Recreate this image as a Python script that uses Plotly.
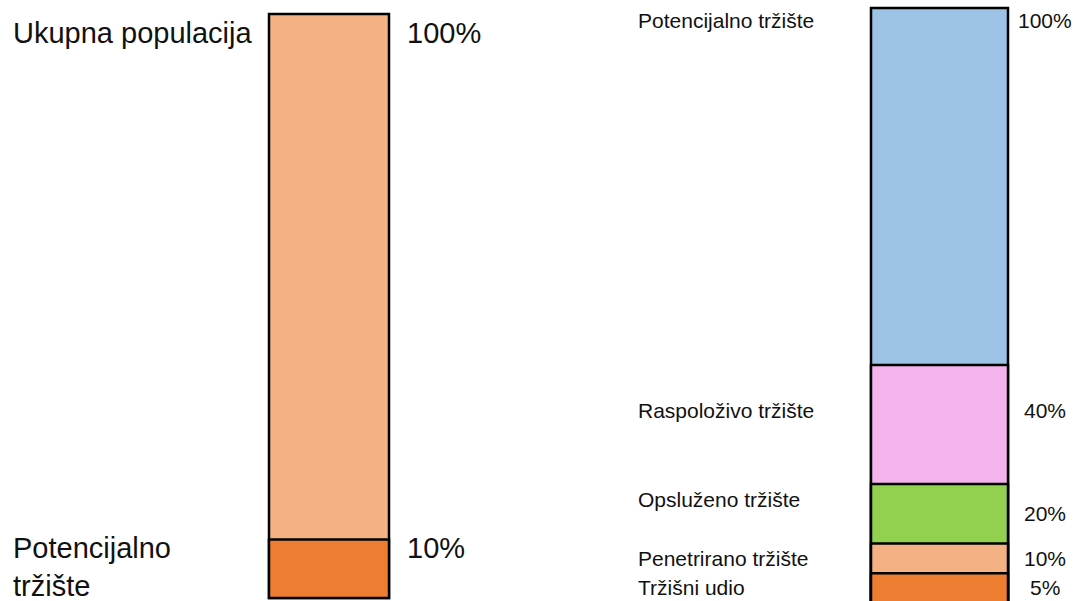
import plotly.graph_objects as go

# Left chart: total population and the potential market share of it
left_names = ["Ukupna populacija", "Potencijalno tržište"]
left_values = [100, 10]
left_colors = ["#F4B183", "#ED7D31"]

# Right chart: nested market levels (share of the potential market)
right_names = ["Potencijalno tržište", "Raspoloživo tržište", "Opsluženo tržište",
               "Penetrirano tržište", "Tržišni udio"]
right_values = [100, 40, 20, 10, 5]
right_colors = ["#9DC3E6", "#F4B3EC", "#92D050", "#F4B183", "#ED7D31"]

W, H = 1086, 601
FONT = "Liberation Sans, Arial, sans-serif"

fig = go.Figure()

# Nested bars: each level is drawn from zero to its own share, largest first
for name, val, col in zip(left_names, left_values, left_colors):
    fig.add_trace(go.Bar(x=[0], y=[val], width=1, name=name, xaxis="x", yaxis="y",
                         marker=dict(color=col, line=dict(color="black", width=2.5)),
                         opacity=1, hoverinfo="skip"))

for name, val, col in zip(right_names, right_values, right_colors):
    fig.add_trace(go.Bar(x=[0], y=[val], width=1, name=name, xaxis="x2", yaxis="y2",
                         marker=dict(color=col, line=dict(color="black", width=2.5)),
                         opacity=1, hoverinfo="skip"))

def px_x(p):
    return p / W

def px_y(p):
    return 1 - p / H

# Left axes: bar spans pixels 269..389 horizontally, 598..14 vertically
l_ppu = (598 - 14) / 100
r_ppu = (603 - 8) / 100
axis_common = dict(visible=False, fixedrange=True)
fig.update_layout(
    xaxis=dict(domain=[px_x(267), px_x(391)], range=[-0.5 - 2 / 120, 0.5 + 2 / 120],
               anchor="y", **axis_common),
    yaxis=dict(domain=[px_y(601), px_y(11)], range=[-(601 - 598) / l_ppu, 100 + 3 / l_ppu],
               anchor="x", **axis_common),
    xaxis2=dict(domain=[px_x(868), px_x(1011)], range=[-0.5 - 3 / 137, 0.5 + 3 / 137],
                anchor="y2", **axis_common),
    yaxis2=dict(domain=[px_y(601), px_y(5)], range=[(603 - 601) / r_ppu, 100 + 3 / r_ppu],
                anchor="x2", **axis_common),
)

annotations = []

def label(text, x, xanchor, y, yref, shift, size):
    annotations.append(dict(text=text, x=px_x(x), xref="paper", xanchor=xanchor,
                            y=y, yref=yref, yanchor="middle", yshift=shift,
                            showarrow=False, font=dict(family=FONT, size=size, color="#111111")))

# Left labels
label(left_names[0], 11, "left", left_values[0], "y", -19, 29)
label(f"{left_values[0]}%", 405, "left", left_values[0], "y", -19, 29)
pot_first, pot_second = left_names[1].split(" ")
label(pot_first, 11, "left", left_values[1], "y", -8, 29)
label(pot_second, 11, "left", left_values[1], "y", -46, 29)
label(f"{left_values[1]}%", 405, "left", left_values[1], "y", -8, 29)

# Right labels: name on the left, share centred to the right of the bar
name_shift = [-13, -45, -15, -15, -14]
pct_shift = [-13, -45, -29, -15, -14]
for name, val, ns, ps in zip(right_names, right_values, name_shift, pct_shift):
    label(name, 636, "left", val, "y2", ns, 21)
    label(f"{val}%", 1045, "center", val, "y2", ps, 21)

fig.update_layout(
    annotations=annotations,
    barmode="overlay",
    showlegend=False,
    width=W, height=H,
    margin=dict(l=0, r=0, t=0, b=0),
    paper_bgcolor="white",
    plot_bgcolor="rgba(0,0,0,0)",
)

fig.write_html("out.html", config={"displayModeBar": False})
